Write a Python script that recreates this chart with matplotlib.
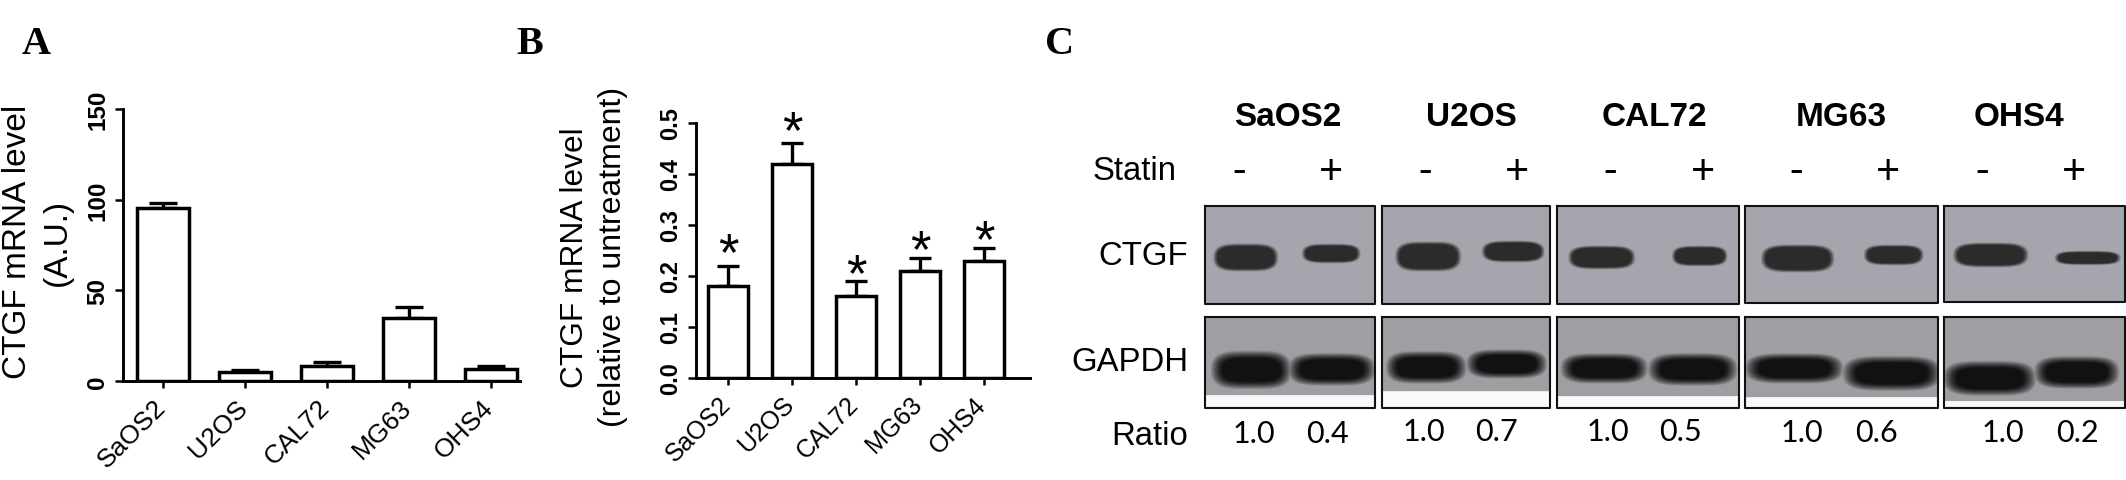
import numpy as np
import matplotlib
matplotlib.use('Agg')
import matplotlib.pyplot as plt
from matplotlib.transforms import ScaledTranslation

plt.rcParams['font.family'] = ['Liberation Sans', 'DejaVu Sans']

W, H = 2126, 481

# ── Data ─────────────────────────────────────────────────────────────────────
cells = ['SaOS2', 'U2OS', 'CAL72', 'MG63', 'OHS4']

a_vals = [95.4, 5.0, 8.0, 34.6, 6.6]
a_errs = [2.6, 0.9, 2.4, 6.0, 1.4]
a_ticks = [0, 50, 100, 150]

b_vals = [0.18, 0.42, 0.16, 0.21, 0.23]
b_errs = [0.04, 0.04, 0.03, 0.025, 0.025]
b_ticks = [0.0, 0.1, 0.2, 0.3, 0.4, 0.5]
star_gap = [23, 22, 17, 18, 18]

statin = ['-', '+', '-', '+', '-', '+', '-', '+', '-', '+']
statin_x = [1239, 1331, 1425, 1517, 1610, 1703, 1796, 1888, 1982, 2074]
ratios = ['1.0', '0.4', '1.0', '0.7', '1.0', '0.5', '1.0', '0.6', '1.0', '0.2']
ratio_x = [1254, 1327, 1424, 1497, 1608, 1681, 1802, 1876, 2003, 2077]
ratio_y = [434, 434, 432, 432, 432, 432, 433, 433, 433, 433]
header_x = [1288, 1471, 1654, 1841, 2019]

# blot frames, pixels: left, right
blot_left = [1205, 1382, 1557, 1745, 1944]
blot_right = [1375, 1550, 1739, 1938, 2125]
ctgf_bottom = [305, 305, 305, 304, 303]
gapdh_strip = [397, 393, 398, 399, 403]

# bands, pixels: x0, x1, y0, y1 for the - and + lanes
ctgf_bands = [
    [(1215, 1277, 246, 272), (1304, 1360, 246, 264)],
    [(1397, 1460, 244, 272), (1484, 1544, 243, 263)],
    [(1570, 1634, 248, 270), (1674, 1727, 248, 267)],
    [(1763, 1833, 247, 273), (1866, 1923, 247, 266)],
    [(1955, 2027, 245, 268), (2057, 2120, 253, 266)],
]
gapdh_bands = [
    [(1215, 1288, 355, 388), (1293, 1372, 357, 385)],
    [(1390, 1463, 355, 383), (1471, 1544, 353, 378)],
    [(1565, 1644, 357, 383), (1653, 1734, 357, 385)],
    [(1750, 1839, 357, 383), (1848, 1937, 360, 390)],
    [(1948, 2032, 365, 395), (2039, 2116, 360, 388)],
]


def px_axes(left, right, top, bottom):
    return fig.add_axes([left / W, (H - bottom) / H, (right - left) / W, (bottom - top) / H])


def bar_panel(ax, vals, errs, ticks, ylim, xlim, width, capsize, tick_fs, label_fs, dx):
    x = np.arange(len(vals))
    ax.errorbar(x, vals, yerr=[np.zeros(len(vals)), errs], fmt='none', ecolor='black',
                elinewidth=2.4, capsize=capsize, capthick=2.4, zorder=2)
    ax.bar(x, vals, width=width, facecolor='white', edgecolor='black', linewidth=2.5, zorder=3)
    ax.set_xlim(*xlim)
    ax.set_ylim(*ylim)
    ax.patch.set_alpha(0)
    for s in ['top', 'right']:
        ax.spines[s].set_visible(False)
    for s in ['left', 'bottom']:
        ax.spines[s].set_linewidth(2.1)
    ax.set_yticks(ticks)
    ax.set_yticklabels([str(t) for t in ticks], rotation=90, va='center',
                       fontsize=tick_fs, fontweight='bold')
    ax.set_xticks(x)
    ax.set_xticklabels(cells, rotation=45, ha='right', fontsize=label_fs)
    ax.tick_params(axis='y', length=6, width=1.8, pad=4)
    ax.tick_params(axis='x', length=5, width=1.8, pad=5)
    shift = ScaledTranslation(dx / 100, 0, fig.dpi_scale_trans)
    for lab in ax.get_xticklabels():
        lab.set_transform(lab.get_transform() + shift)


def blot(ax0, left, right, top, bottom, bands, bg, dark, soft, strip=None):
    xs = np.arange(left, right + 1) + 0.5
    ys = np.arange(top, bottom + 1) + 0.5
    xx, yy = np.meshgrid(xs, ys)
    a = np.zeros_like(xx)
    for x0, x1, y0, y1 in bands:
        cx, cy = (x0 + x1) / 2, (y0 + y1) / 2
        hw, hh = (x1 - x0) / 2, (y1 - y0) / 2
        d = (np.abs(xx - cx) / hw) ** 4 + (np.abs(yy - cy) / hh) ** 2.6
        a = np.maximum(a, np.clip((1.0 + soft - d) / (2 * soft), 0, 1))
    img = np.empty(xx.shape + (3,))
    for c in range(3):
        img[..., c] = bg[c] * (1 - a) + dark * a
    if strip is not None:
        img[yy > strip] = 0.98
    ax0.imshow(img, extent=(left, right, bottom, top), aspect='auto', zorder=1,
               interpolation='bilinear')
    ax0.plot([left, right, right, left, left], [top, top, bottom, bottom, top],
             color='#111111', lw=1.5, zorder=2)


fig = plt.figure(figsize=(W / 100, H / 100), dpi=100, facecolor='white')

# ── Panel A ──────────────────────────────────────────────────────────────────
ax_a = px_axes(123, 520, 110, 382)
bar_panel(ax_a, a_vals, a_errs, a_ticks, (0, 150), (-40 / 82, 357 / 82), 52 / 82, 10.2, 17.5, 19, 7)

# ── Panel B ──────────────────────────────────────────────────────────────────
ax_b = px_axes(696, 1030, 124, 379)
bar_panel(ax_b, b_vals, b_errs, b_ticks, (0, 0.5), (-32 / 64, 302 / 64), 40 / 64, 8.2, 17, 18, 7)
for i, (v, e, g) in enumerate(zip(b_vals, b_errs, star_gap)):
    ax_b.annotate('*', xy=(i, v + e), xytext=(0, g * 0.72 - 26.5), textcoords='offset points',
                  ha='center', va='bottom', fontsize=38, zorder=4)

# ── Overlay in pixel coordinates: panel C and free text ──────────────────────
ov = fig.add_axes([0, 0, 1, 1], zorder=5)
ov.set_xlim(0, W)
ov.set_ylim(H, 0)
ov.axis('off')
ov.patch.set_alpha(0)

for i in range(5):
    blot(ov, blot_left[i], blot_right[i], 207, ctgf_bottom[i], ctgf_bands[i],
         (0.65, 0.65, 0.68), 0.17, 0.3)
    blot(ov, blot_left[i], blot_right[i], 318, 409, gapdh_bands[i],
         (0.62, 0.62, 0.64), 0.07, 0.6, strip=gapdh_strip[i])
ov.set_xlim(0, W)
ov.set_ylim(H, 0)

for s, x, y in [('A', 36, 44), ('B', 530, 44), ('C', 1060, 44)]:
    ov.text(x, y, s, family='Liberation Serif', fontweight='bold', fontsize=29,
            ha='center', va='center')

ov.text(18, 242, 'CTGF mRNA level', rotation=90, fontsize=24, ha='center', va='center')
ov.text(57, 242, '(A.U.)', rotation=90, fontsize=24, ha='center', va='center')
ov.text(575, 258, 'CTGF mRNA level', rotation=90, fontsize=22.8, ha='center', va='center')
ov.text(613, 257, '(relative to untreatment)', rotation=90, fontsize=23, ha='center', va='center')

for name, x in zip(cells, header_x):
    ov.text(x, 117, name, fontsize=24, fontweight='bold', ha='center', va='center')
ov.text(1177, 172, 'Statin', fontsize=23.7, ha='right', va='center')
ov.text(1188, 257, 'CTGF', fontsize=23.7, ha='right', va='center')
ov.text(1188, 363, 'GAPDH', fontsize=23.7, ha='right', va='center')
ov.text(1188, 437, 'Ratio', fontsize=23.7, ha='right', va='center')

for s, x in zip(statin, statin_x):
    ov.text(x, 172, s, family='Lato', fontsize=30, ha='center', va='center')
for s, x, y in zip(ratios, ratio_x, ratio_y):
    ov.text(x, y, s, family='Lato', fontsize=22, ha='center', va='center')

fig.savefig('out.png', dpi=100)
plt.close()
